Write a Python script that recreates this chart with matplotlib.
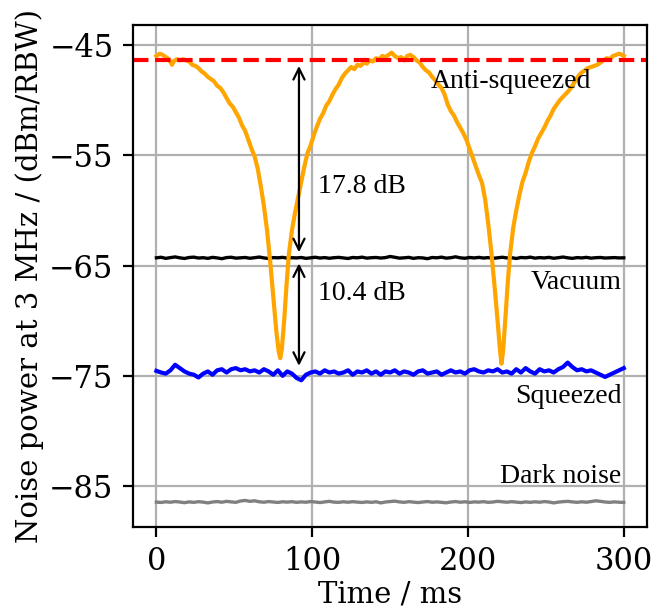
import numpy as np
import matplotlib.pyplot as plt

plt.rcParams['font.family'] = 'serif'
plt.rcParams['font.serif'] = ['DejaVu Serif']
ANNOT_FONT = 'Liberation Serif'

# Anti-squeezed trace (time in ms, power in dBm)
anti_t = [0, 2, 4, 6, 8, 10, 11, 13, 15, 17, 19, 21, 23, 25, 27, 29, 31, 33, 35, 37,
          39, 41, 43, 45, 47, 49, 51, 53, 55, 57, 59, 61, 63, 65, 67, 69, 71, 73, 75, 77,
          78.5, 79.5, 80.5, 82, 83.5, 85, 87, 89, 91, 93, 95, 97, 99, 101, 103, 105, 107,
          109, 111, 113, 115, 117, 119, 121, 123, 125, 127, 129, 131, 133, 135, 137, 139,
          141, 143, 145, 147, 149, 151, 153, 155, 157, 159, 161, 163, 165, 167, 169, 171,
          173, 175, 177, 179, 181, 183, 185, 187, 189, 191, 193, 195, 197, 199, 201, 203,
          205, 207, 209, 211, 213, 215, 217, 219, 220.5, 221.5, 222.5, 224, 225.5, 227,
          229, 231, 233, 235, 237, 239, 241, 243, 245, 247, 249, 251, 253, 255, 257, 259,
          261, 263, 265, 267, 269, 271, 273, 275, 277, 279, 281, 283, 285, 287, 289, 291,
          293, 295, 297, 299, 300]
anti_p = [-46.0, -45.8, -45.9, -46.1, -46.3, -46.8, -46.5, -46.3, -46.4, -46.3, -46.4,
          -46.5, -46.8, -46.9, -47.1, -47.4, -47.6, -47.9, -48.1, -48.3, -48.7, -48.9,
          -49.3, -49.8, -50.3, -50.6, -51.1, -51.6, -52.3, -52.8, -53.6, -54.4, -55.1,
          -56.2, -57.8, -59.6, -61.8, -64.6, -67.8, -71.0, -72.8, -73.4, -72.6, -70.0,
          -66.8, -64.0, -61.8, -60.2, -58.8, -57.4, -56.0, -54.8, -54.1, -53.2, -52.4,
          -51.7, -51.2, -50.5, -50.1, -49.5, -49.0, -48.6, -48.0, -47.6, -47.3, -47.0,
          -47.2, -46.8, -46.9, -46.6, -46.7, -46.4, -46.5, -46.2, -46.3, -46.0, -46.1,
          -45.9, -45.7, -46.0, -46.2, -46.1, -46.4, -46.0, -45.9, -46.1, -46.4, -46.6,
          -47.0, -47.3, -47.5, -47.9, -48.2, -48.6, -48.9, -49.5, -50.4, -51.0, -51.4,
          -52.0, -52.5, -53.0, -53.6, -54.4, -55.2, -56.0, -56.8, -57.5, -59.0, -61.2,
          -63.8, -66.8, -70.0, -72.6, -73.9, -72.8, -69.8, -66.6, -64.0, -61.6, -60.0,
          -58.6, -57.4, -56.6, -55.6, -54.8, -54.2, -53.5, -53.0, -52.5, -51.9, -51.4,
          -50.8, -50.4, -50.0, -49.7, -49.4, -49.1, -48.7, -48.2, -47.8, -47.5, -47.3,
          -47.1, -47.0, -46.9, -46.8, -46.6, -46.4, -46.2, -46.3, -46.0, -45.9, -45.8,
          -45.9, -46.0]

# Flat traces, sampled every 3 ms
squeezed = [-74.55, -74.7, -74.8, -74.5, -74.0, -74.3, -74.6, -74.8, -74.9, -75.15,
            -74.8, -74.6, -74.9, -74.5, -74.4, -74.7, -74.4, -74.3, -74.5, -74.4,
            -74.6, -74.5, -74.7, -74.4, -74.6, -74.9, -74.5, -75.0, -74.6, -74.8,
            -75.2, -75.4, -74.9, -74.7, -74.6, -74.8, -74.5, -74.7, -74.6, -74.8,
            -74.7, -74.5, -74.9, -74.6, -74.7, -74.5, -74.8, -74.6, -74.9, -74.6,
            -74.7, -74.5, -74.8, -74.6, -74.7, -74.9, -74.6, -74.5, -74.8, -74.7,
            -74.6, -74.9, -74.7, -74.5, -74.7, -74.6, -74.8, -74.5, -74.4, -74.6,
            -74.7, -74.5, -74.6, -74.4, -74.7, -74.6, -74.8, -74.4, -74.7, -74.3,
            -74.6, -74.8, -74.4, -74.6, -74.5, -74.7, -74.4, -74.2, -73.8, -74.2,
            -74.5, -74.4, -74.6, -74.5, -74.7, -74.9, -75.1, -74.9, -74.7, -74.5,
            -74.3]
vacuum = [-64.30, -64.25, -64.35, -64.28, -64.22, -64.30, -64.36, -64.27, -64.24, -64.32,
          -64.29, -64.35, -64.26, -64.31, -64.38, -64.28, -64.25, -64.33, -64.30, -64.27,
          -64.34, -64.29, -64.23, -64.31, -64.36, -64.28, -64.30, -64.26, -64.33, -64.29,
          -64.31, -64.27, -64.35, -64.30, -64.25, -64.32, -64.28, -64.34, -64.29, -64.26,
          -64.31, -64.36, -64.27, -64.30, -64.24, -64.33, -64.29, -64.27, -64.32, -64.28,
          -64.18, -64.25, -64.33, -64.30, -64.26, -64.35, -64.29, -64.31, -64.38, -64.27,
          -64.30, -64.24, -64.33, -64.29, -64.21, -64.30, -64.34, -64.27, -64.31, -64.26,
          -64.32, -64.28, -64.35, -64.30, -64.25, -64.31, -64.29, -64.36, -64.27, -64.30,
          -64.24, -64.33, -64.28, -64.31, -64.26, -64.34, -64.29, -64.23, -64.30, -64.35,
          -64.28, -64.31, -64.26, -64.33, -64.29, -64.27, -64.32, -64.30, -64.28, -64.31,
          -64.30]
dark = [-86.45, -86.48, -86.42, -86.46, -86.40, -86.44, -86.50, -86.43, -86.47, -86.41,
        -86.45, -86.52, -86.44, -86.40, -86.46, -86.38, -86.43, -86.47, -86.35, -86.30,
        -86.38, -86.33, -86.42, -86.46, -86.40, -86.44, -86.48, -86.42, -86.45, -86.41,
        -86.47, -86.43, -86.46, -86.40, -86.44, -86.49, -86.43, -86.38, -86.45, -86.47,
        -86.42, -86.46, -86.41, -86.45, -86.48, -86.43, -86.47, -86.42, -86.52, -86.44,
        -86.40, -86.36, -86.43, -86.47, -86.41, -86.45, -86.49, -86.44, -86.40, -86.46,
        -86.43, -86.47, -86.51, -86.44, -86.40, -86.46, -86.42, -86.48, -86.43, -86.45,
        -86.41, -86.47, -86.44, -86.38, -86.42, -86.46, -86.41, -86.45, -86.49, -86.43,
        -86.47, -86.42, -86.46, -86.40, -86.44, -86.52, -86.45, -86.41, -86.38, -86.43,
        -86.47, -86.42, -86.46, -86.40, -86.33, -86.38, -86.44, -86.47, -86.43, -86.46,
        -86.48]
t_flat = np.linspace(0, 300, len(vacuum))

anti_max = -46.4
vac_level = -64.3
sq_level = -74.6

fig, ax = plt.subplots(figsize=(3.36, 3.06), dpi=200)
fig.subplots_adjust(left=0.198, right=0.963, bottom=0.139, top=0.959)

ax.grid(True, color='#b0b0b0', lw=0.8)
ax.set_axisbelow(True)

ax.plot(t_flat, dark, color='gray', lw=1.2)
ax.plot(t_flat, vacuum, color='black', lw=1.2)
ax.plot(t_flat, squeezed, color='blue', lw=1.5)
ax.plot(anti_t, anti_p, color='orange', lw=1.5)
ax.axhline(anti_max, color='red', ls='--', lw=1.5)

# dB arrows
arrow_x = 91.5
ax.annotate('', xy=(arrow_x, anti_max), xytext=(arrow_x, vac_level),
            arrowprops=dict(arrowstyle='<->', color='black', lw=0.8))
ax.annotate('', xy=(arrow_x, vac_level), xytext=(arrow_x, sq_level),
            arrowprops=dict(arrowstyle='<->', color='black', lw=0.8))
ax.text(104, -58.4, '17.8 dB', fontsize=10, family=ANNOT_FONT, va='baseline')
ax.text(104, -68.1, '10.4 dB', fontsize=10, family=ANNOT_FONT, va='baseline')

ax.text(176, -48.9, 'Anti-squeezed', fontsize=10, family=ANNOT_FONT, va='baseline')
ax.text(298.5, -67.1, 'Vacuum', fontsize=10, family=ANNOT_FONT, va='baseline', ha='right')
ax.text(298.5, -77.5, 'Squeezed', fontsize=10, family=ANNOT_FONT, va='baseline', ha='right')
ax.text(298.5, -84.76, 'Dark noise', fontsize=10, family=ANNOT_FONT, va='baseline', ha='right')

ax.set_xlim(-15, 315)
ax.set_ylim(-88.7, -43.2)
ax.set_xticks([0, 100, 200, 300])
ax.set_yticks([-45, -55, -65, -75, -85])
ax.tick_params(labelsize=11)
ax.set_xlabel('Time / ms', fontsize=10.5, labelpad=1)
ax.set_ylabel('Noise power at 3 MHz / (dBm/RBW)', fontsize=10.5, labelpad=2)

fig.savefig('out.png', dpi=200)
